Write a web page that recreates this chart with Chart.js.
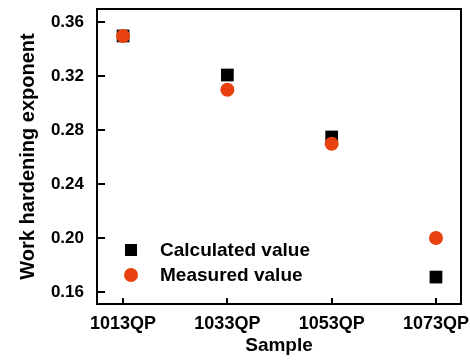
<!DOCTYPE html>
<html>
<head>
<meta charset="utf-8">
<script src="https://cdn.jsdelivr.net/npm/chart.js@4/dist/chart.umd.min.js"></script>
<style>
  body { margin: 0; background: #fff; }
  #wrap { width: 470px; height: 360px; }
</style>
</head>
<body>
<div id="wrap"><canvas id="whChart" width="470" height="360"></canvas></div>
<script>
// samples on the x axis
const samples = ['1013QP', '1033QP', '1053QP', '1073QP'];
// work hardening exponent
const calculatedValues = [0.350, 0.321, 0.275, 0.171];
const measuredValues = [0.350, 0.310, 0.270, 0.200];
const yTicks = [0.16, 0.20, 0.24, 0.28, 0.32, 0.36];

const FONT = '"Liberation Sans", Arial, sans-serif';
const ORANGE = '#e8410f';

function toPoints(values) {
    return values.map((v, i) => ({ x: i, y: v }));
}

// frame, inward tick marks and the legend inside the plot
const framePlugin = {
    id: 'frame',
    afterDraw(chart) {
        const ctx = chart.ctx;
        const a = chart.chartArea;
        const xs = chart.scales.x;
        const ys = chart.scales.y;
        ctx.save();
        ctx.strokeStyle = '#000';
        ctx.lineWidth = 2;
        ctx.strokeRect(a.left, a.top, a.right - a.left, a.bottom - a.top);

        ctx.beginPath();
        samples.forEach((s, i) => {
            const px = Math.round(xs.getPixelForValue(i));
            ctx.moveTo(px, a.bottom);
            ctx.lineTo(px, a.bottom - 6);
        });
        yTicks.forEach(v => {
            const py = Math.round(ys.getPixelForValue(v));
            ctx.moveTo(a.left, py);
            ctx.lineTo(a.left + 8, py);
        });
        ctx.stroke();

        // legend
        const lx = a.left + 34;
        let ly = a.top + 241;
        ctx.font = 'bold 19px ' + FONT;
        ctx.textBaseline = 'middle';
        ctx.textAlign = 'left';
        chart.data.datasets.slice().sort((p, q) => q.order - p.order).forEach(ds => {
            ctx.fillStyle = ds.backgroundColor;
            if (ds.pointStyle === 'rect') {
                ctx.fillRect(lx - 6, ly - 6, 12, 12);
            } else {
                ctx.beginPath();
                ctx.arc(lx, ly, 7, 0, Math.PI * 2);
                ctx.fill();
            }
            ctx.fillStyle = '#000';
            ctx.fillText(ds.label, lx + 29, ly + 1);
            ly += 25;
        });
        ctx.restore();
    }
};

const hiddenGrid = {
    display: true,
    drawOnChartArea: false,
    drawTicks: true,
    color: 'rgba(0,0,0,0)'
};

new Chart(document.getElementById('whChart'), {
    type: 'scatter',
    data: {
        datasets: [
            {
                label: 'Calculated value',
                data: toPoints(calculatedValues),
                pointStyle: 'rect',
                pointRadius: 9,
                pointHoverRadius: 9,
                backgroundColor: '#000',
                borderColor: '#000',
                borderWidth: 0,
                order: 1
            },
            {
                label: 'Measured value',
                data: toPoints(measuredValues),
                pointStyle: 'circle',
                pointRadius: 7,
                pointHoverRadius: 7,
                backgroundColor: ORANGE,
                borderColor: ORANGE,
                borderWidth: 0,
                order: 0
            }
        ]
    },
    options: {
        responsive: false,
        animation: false,
        layout: { padding: { left: 0, top: 7, right: 4, bottom: 0 } },
        plugins: {
            legend: { display: false },
            tooltip: { enabled: false }
        },
        scales: {
            x: {
                type: 'linear',
                min: -0.25,
                max: 3.24,
                grid: Object.assign({}, hiddenGrid, { tickLength: 9 }),
                border: { display: false },
                afterBuildTicks: scale => { scale.ticks = samples.map((s, i) => ({ value: i })); },
                afterFit: scale => { scale.height = 56; },
                ticks: {
                    callback: v => samples[v],
                    color: '#000',
                    padding: 0,
                    maxRotation: 0,
                    font: { family: FONT, size: 18, weight: 'bold' }
                },
                title: {
                    display: true,
                    text: 'Sample',
                    color: '#000',
                    padding: { top: 0, bottom: 3 },
                    font: { family: FONT, size: 19, weight: 'bold' }
                }
            },
            y: {
                min: 0.151,
                max: 0.37,
                grid: Object.assign({}, hiddenGrid, { tickLength: 13 }),
                border: { display: false },
                afterBuildTicks: scale => { scale.ticks = yTicks.map(v => ({ value: v })); },
                afterFit: scale => { scale.width = 97; },
                ticks: {
                    callback: v => v.toFixed(2),
                    color: '#000',
                    padding: 0,
                    font: { family: FONT, size: 17, weight: 'bold', lineHeight: 0.8 }
                },
                title: {
                    display: true,
                    text: 'Work hardening exponent',
                    color: '#000',
                    padding: { top: 16, bottom: 0 },
                    font: { family: FONT, size: 20, weight: 'bold' }
                }
            }
        }
    },
    plugins: [framePlugin]
});
</script>
</body>
</html>
